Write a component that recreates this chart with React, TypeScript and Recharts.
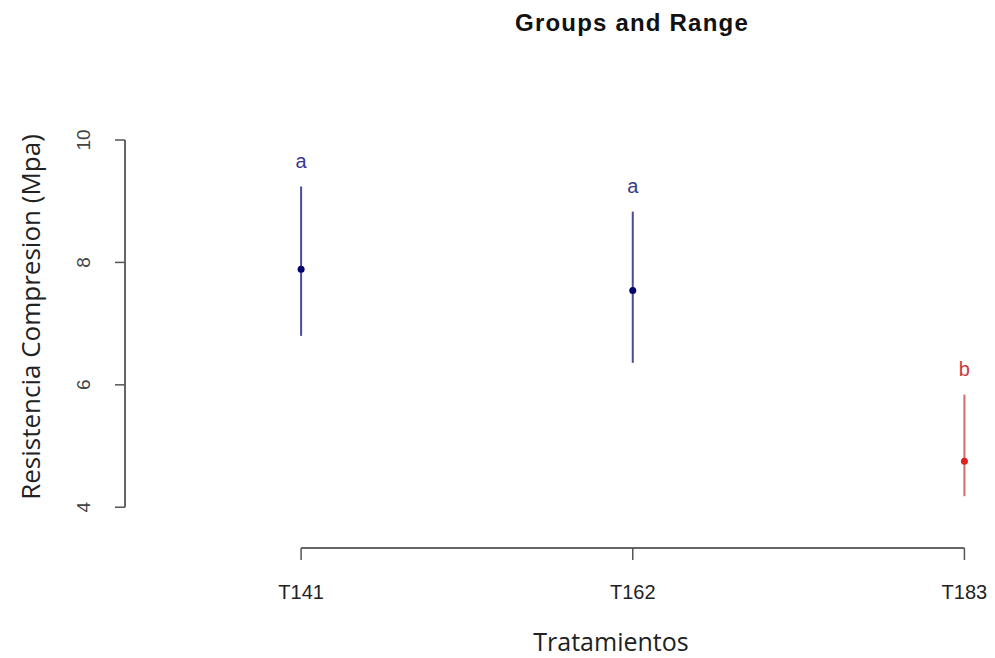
import {
  ComposedChart,
  Scatter,
  ErrorBar,
  XAxis,
  YAxis,
  ReferenceLine,
} from "recharts";

// ── Data ────────────────────────────────────────────────────────────────────

const treatments = ["T141", "T162", "T183"];
const means = [7.89, 7.54, 4.75];
const mins = [6.8, 6.36, 4.18];
const maxs = [9.24, 8.83, 5.84];
const groups = ["a", "a", "b"];
const yTicks = [4, 6, 8, 10];

const groupColor: Record<string, { line: string; dot: string; text: string }> = {
  a: { line: "#4b4b9c", dot: "#00006e", text: "#3a3a8c" },
  b: { line: "#d46a6a", dot: "#dd2222", text: "#cc3b3b" },
};

const rows = treatments.map((t, i) => ({
  x: i + 1,
  name: t,
  mean: means[i],
  max: maxs[i],
  group: groups[i],
  err: [means[i] - mins[i], maxs[i] - means[i]],
}));

const rowsA = rows.filter((r) => r.group === "a");
const rowsB = rows.filter((r) => r.group === "b");

const TICK_FONT = "'Liberation Sans', Arial, sans-serif";
const TITLE_FONT = "'Open Sans', 'Noto Sans', sans-serif";

// ── Shapes ──────────────────────────────────────────────────────────────────

function Dot(color: string) {
  return (props: any) => <circle cx={props.cx} cy={props.cy} r={3.5} fill={color} />;
}

function Letter(props: any) {
  const c = groupColor[props.payload.group];
  return (
    <text
      x={props.cx}
      y={props.cy - 26}
      textAnchor="middle"
      dominantBaseline="central"
      fill={c.text}
      fontSize={20}
      fontFamily={TICK_FONT}
    >
      {props.payload.group}
    </text>
  );
}

function XTick(props: any) {
  const { x, y, payload } = props;
  return (
    <text
      x={x}
      y={y + 30}
      textAnchor="middle"
      dominantBaseline="central"
      fill="#222"
      fontSize={20}
      fontFamily={TICK_FONT}
    >
      {treatments[payload.value - 1]}
    </text>
  );
}

function YTick(props: any) {
  const { x, y, payload } = props;
  return (
    <text
      x={0}
      y={0}
      transform={`translate(${x - 30},${y}) rotate(-90)`}
      textAnchor="middle"
      dominantBaseline="central"
      fill="#444"
      fontSize={19}
      fontFamily={TICK_FONT}
    >
      {payload.value}
    </text>
  );
}

// ── Component ───────────────────────────────────────────────────────────────

export default function App() {
  return (
    <div style={{ position: "absolute", left: 0, top: 0, width: 995, height: 658, background: "#fff" }}>
      <ComposedChart
        width={995}
        height={658}
        data={rows}
        margin={{ top: 120, right: 14, bottom: 50, left: 65 }}
      >
        <text
          x={632}
          y={22}
          textAnchor="middle"
          dominantBaseline="central"
          fontSize={24}
          fontWeight="bold"
          letterSpacing={1.2}
          fill="#111"
          fontFamily={TICK_FONT}
        >
          Groups and Range
        </text>
        <XAxis
          type="number"
          dataKey="x"
          domain={[0.469, 3.05]}
          ticks={[1, 2, 3]}
          axisLine={false}
          tickLine={{ stroke: "#555", strokeWidth: 1.5 }}
          tickSize={12}
          height={60}
          tick={<XTick />}
          allowDataOverflow
        />
        <YAxis
          type="number"
          domain={[3.334, 10.327]}
          ticks={yTicks}
          axisLine={false}
          tickLine={{ stroke: "#555", strokeWidth: 1.5 }}
          tickSize={10}
          width={60}
          tick={<YTick />}
          allowDataOverflow
        />
        <ReferenceLine
          segment={[{ x: 0.469, y: 4 }, { x: 0.469, y: 10 }]}
          stroke="#666"
          strokeWidth={2}
          ifOverflow="visible"
        />
        <ReferenceLine
          segment={[{ x: 1, y: 3.334 }, { x: 3, y: 3.334 }]}
          stroke="#666"
          strokeWidth={2}
          ifOverflow="visible"
        />
        <Scatter data={rowsA} dataKey="mean" shape={Dot(groupColor.a.dot)} isAnimationActive={false}>
          <ErrorBar dataKey="err" direction="y" width={0} stroke={groupColor.a.line} strokeWidth={2} />
        </Scatter>
        <Scatter data={rowsB} dataKey="mean" shape={Dot(groupColor.b.dot)} isAnimationActive={false}>
          <ErrorBar dataKey="err" direction="y" width={0} stroke={groupColor.b.line} strokeWidth={2} />
        </Scatter>
        <Scatter data={rows} dataKey="max" shape={Letter} isAnimationActive={false} />
        <text
          x={611}
          y={641}
          textAnchor="middle"
          dominantBaseline="central"
          fontSize={25}
          fill="#222"
          fontFamily={TITLE_FONT}
        >
          Tratamientos
        </text>
        <text
          x={0}
          y={0}
          transform="translate(30,317) rotate(-90)"
          textAnchor="middle"
          dominantBaseline="central"
          fontSize={26}
          fill="#222"
          fontFamily={TITLE_FONT}
        >
          Resistencia Compresion (Mpa)
        </text>
      </ComposedChart>
    </div>
  );
}
